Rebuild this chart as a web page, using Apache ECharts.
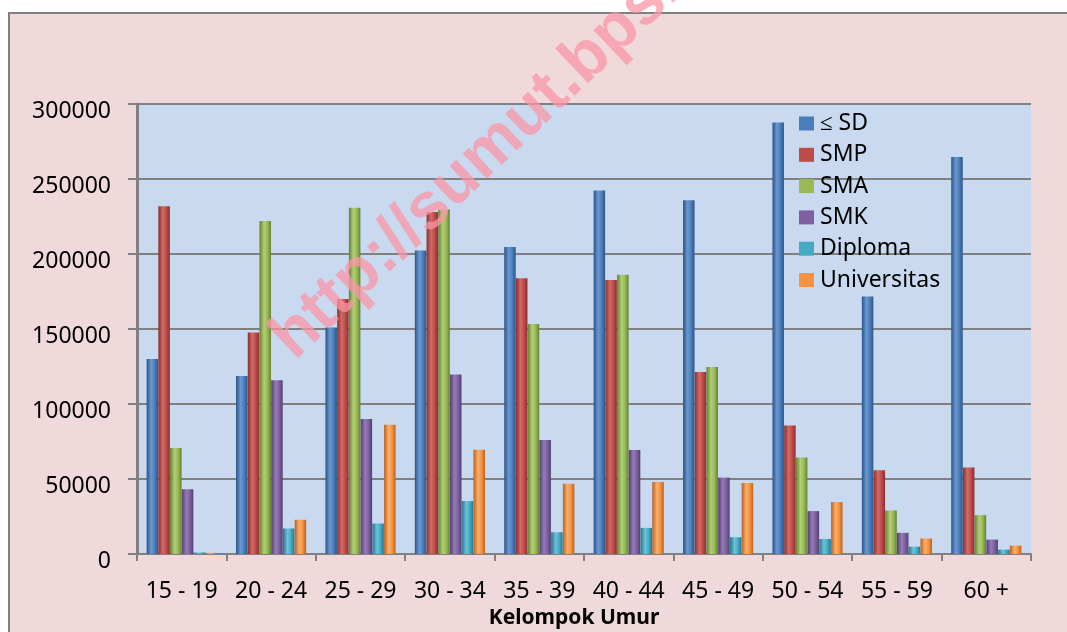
<!DOCTYPE html>
<html>
<head>
<meta charset="utf-8">
<script src="https://cdn.jsdelivr.net/npm/echarts@6/dist/echarts.min.js"></script>
<style>
  html, body { margin: 0; padding: 0; background: #ffffff; overflow: hidden; width: 1067px; height: 632px; }
  #frame {
    position: absolute; left: 8px; top: 12px; width: 1062px; height: 623px;
    background: #efd9da; border: 2px solid #808080; box-sizing: border-box;
  }
  #main { position: absolute; left: 0; top: 0; width: 1067px; height: 632px; }
</style>
</head>
<body>
<div id="frame"></div>
<div id="main"></div>
<script>
const categories = ['15 - 19', '20 - 24', '25 - 29', '30 - 34', '35 - 39', '40 - 44', '45 - 49', '50 - 54', '55 - 59', '60 +'];
const sd          = [130000, 118600, 151000, 202400, 204600, 242400, 235900, 287700, 171600, 264700];
const smp         = [231900, 147700, 170000, 228000, 183900, 182700, 121300, 85600, 55900, 57600];
const sma         = [70600, 222000, 230800, 229700, 153300, 186100, 124700, 64300, 29000, 25900];
const smk         = [43100, 115900, 90000, 119700, 76000, 69300, 50900, 28600, 14100, 9600];
const diploma     = [1000, 17000, 20300, 35300, 14500, 17400, 11200, 10000, 4900, 2900];
const universitas = [800, 22800, 86200, 69500, 46900, 48000, 47400, 34600, 10300, 5600];
const yTicks = [0, 50000, 100000, 150000, 200000, 250000, 300000];

// flat colours for legend, edge/light shades for the cylinder look
const palette = [
  ['≤ SD', sd, '#4a7ebb', '#2c5485', '#6a98d2'],
  ['SMP', smp, '#be4b48', '#87302e', '#d46a67'],
  ['SMA', sma, '#98b954', '#667e33', '#b2cf75'],
  ['SMK', smk, '#7d60a0', '#533f6e', '#977ab9'],
  ['Diploma', diploma, '#46aac5', '#2a7488', '#6cc3da'],
  ['Universitas', universitas, '#f69240', '#b8621e', '#fbae6c']
];

function cyl(base, dark, light) {
  return new echarts.graphic.LinearGradient(0, 0, 1, 0, [
    { offset: 0, color: dark },
    { offset: 0.4, color: light },
    { offset: 0.7, color: base },
    { offset: 1, color: dark }
  ]);
}

const chart = echarts.init(document.getElementById('main'), null, { renderer: 'canvas', width: 1067, height: 632 });

const series = palette.map(p => ({
  name: p[0],
  type: 'bar',
  data: p[1],
  barWidth: 11.5,
  barGap: '2%',
  itemStyle: { color: cyl(p[2], p[3], p[4]) }
}));

chart.setOption({
  backgroundColor: 'transparent',
  animation: false,
  textStyle: { fontFamily: 'Noto Sans' },
  grid: {
    left: 137, right: 36, top: 104, bottom: 78,
    outerBoundsMode: 'none', containLabel: false,
    show: true, backgroundColor: '#c9daf0', borderWidth: 0
  },
  legend: {
    orient: 'vertical',
    left: 799,
    top: 112,
    padding: 0,
    itemWidth: 15,
    itemHeight: 14,
    itemGap: 8.3,
    icon: 'rect',
    textStyle: { fontSize: 23, lineHeight: 23, color: '#000', fontFamily: 'Noto Sans', padding: [0, 0, 0, 1] },
    data: palette.map(p => ({ name: p[0], itemStyle: { color: p[2] } }))
  },
  xAxis: {
    type: 'category',
    data: categories,
    name: 'Kelompok Umur',
    nameLocation: 'middle',
    nameGap: 50,
    nameTextStyle: { fontSize: 21, fontWeight: 'bold', color: '#000', fontFamily: 'Noto Sans', padding: [0, 20, 0, 0] },
    axisLine: { lineStyle: { color: '#808080', width: 2 } },
    axisTick: { show: true, length: 7, lineStyle: { color: '#808080', width: 2 } },
    axisLabel: { fontSize: 23, color: '#000', margin: 26, interval: 0 }
  },
  yAxis: {
    type: 'value',
    min: 0,
    max: 300000,
    interval: 50000,
    axisLine: { show: true, lineStyle: { color: '#808080', width: 3 } },
    axisTick: { show: true, length: 9, lineStyle: { color: '#808080', width: 2 } },
    splitLine: { lineStyle: { color: '#808080', width: 2 } },
    axisLabel: {
      margin: 26,
      color: '#000',
      formatter: v => yTicks.includes(v) ? '{a|' + v + '}' : '',
      rich: { a: { fontSize: 23, fontFamily: 'Noto Sans', color: '#000', padding: [14, 0, 0, 0] } }
    }
  },
  graphic: [{
    type: 'text',
    x: 305,
    y: 372,
    rotation: 43.5 * Math.PI / 180,
    silent: true,
    z: 100,
    style: {
      text: 'http://sumut.bps.go.id',
      font: 'bold 66px "Liberation Sans"',
      fill: 'rgba(250,150,165,0.75)',
      textAlign: 'left',
      textVerticalAlign: 'bottom'
    }
  }],
  series: series
});
</script>
</body>
</html>
